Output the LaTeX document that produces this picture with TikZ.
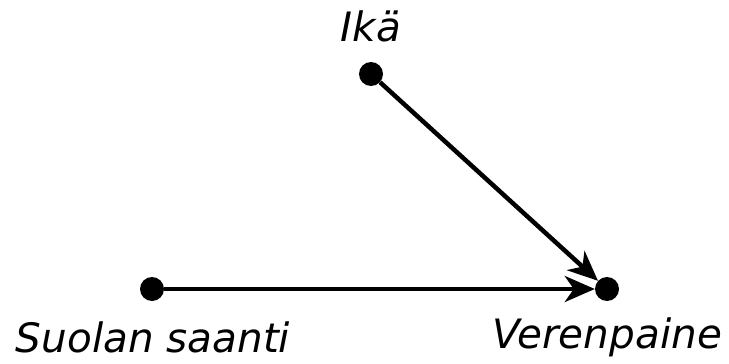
\documentclass[tikz,border=0pt]{standalone}
\usepackage{fontspec}
\setmainfont{DejaVu Sans}
\usetikzlibrary{arrows.meta}
\begin{document}
\begin{tikzpicture}[x=1pt,y=-1pt,
  dot/.style={circle,fill=black,inner sep=0pt,minimum size=24pt},
  lbl/.style={font=\fontsize{40.5}{42}\selectfont\itshape,inner sep=0pt},
  edge/.style={line width=4.5pt,-{Stealth[length=30pt,width=26pt,inset=9pt]},shorten >=0pt}]
\useasboundingbox (0,0) rectangle (729,364);
\node[dot] (ika) at (371,74) {};
\node[dot] (suola) at (152,289) {};
\node[dot] (veren) at (607,289) {};
\node[lbl] (lika) at (371,26) {Ikä};
\node[lbl] (lsuola) at (153,337) {Suolan saanti};
\node[lbl] (lveren) at (607,337) {Verenpaine};
\draw[edge] (suola) -- (veren);
\draw[edge] (ika) -- (veren);
\end{tikzpicture}
\end{document}
